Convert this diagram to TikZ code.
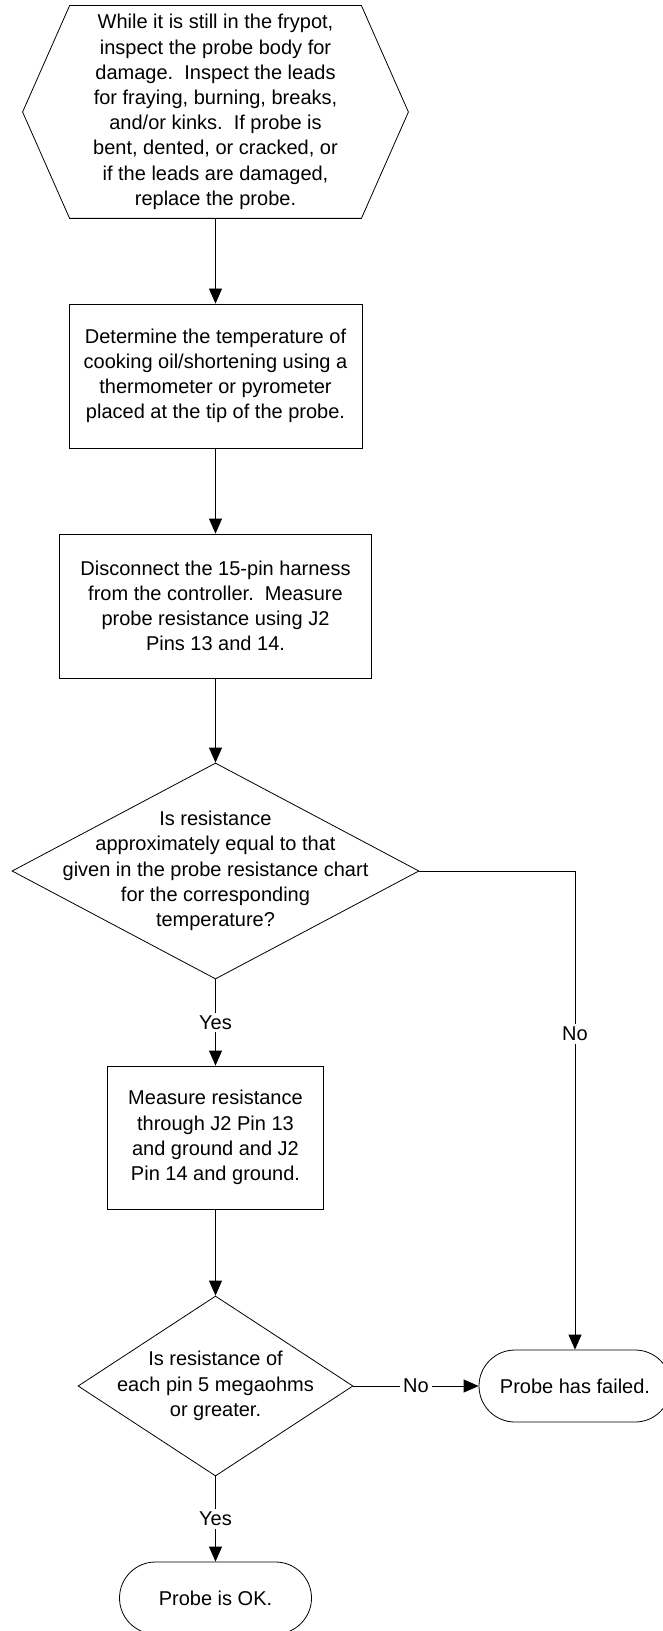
\documentclass[tikz,border=0pt]{standalone}
\usepackage{fontspec}
\setmainfont{Liberation Sans}
\usetikzlibrary{arrows.meta, shapes.geometric}

\begin{document}
\begin{tikzpicture}[x=0.5pt, y=-0.5pt,
        every node/.style={font=\fontsize{10}{12.6}\selectfont, align=center},
        process/.style={draw, rectangle, inner sep=0pt},
        decision/.style={draw, diamond, inner sep=0pt},
        terminal/.style={draw, rectangle, rounded corners=18pt, minimum width=96pt, minimum height=36pt, inner sep=0pt},
        flow/.style={-{Triangle[length=7.5pt, width=6.5pt]}},
        answer/.style={fill=white, inner sep=1.5pt}]
        \useasboundingbox (0, 0) rectangle (663, 1631);

        \node[minimum width=192.5pt, minimum height=106pt, inner sep=0pt] (inspect) at (215.5, 112)
            {While it is still in the frypot,\\inspect the probe body for\\damage.\ \ Inspect the leads\\for fraying, burning, breaks,\\and/or kinks.\ \ If probe is\\bent, dented, or cracked, or\\if the leads are damaged,\\replace the probe.};
        \draw ([xshift=23.5pt]inspect.north west) -- ([xshift=-23.5pt]inspect.north east) -- (inspect.east)
            -- ([xshift=-23.5pt]inspect.south east) -- ([xshift=23.5pt]inspect.south west) -- (inspect.west) -- cycle;

        \node[process, minimum width=146.5pt, minimum height=72pt] (temp) at (215.5, 376)
            {Determine the temperature of\\cooking oil/shortening using a\\thermometer or pyrometer\\placed at the tip of the probe.};
        \node[process, minimum width=156pt, minimum height=72pt] (harness) at (215.5, 606)
            {Disconnect the 15-pin harness\\from the controller.\ \ Measure\\probe resistance using J2\\Pins 13 and 14.};
        \node[decision, minimum width=203.5pt, minimum height=108pt,
            label={center:{Is resistance\\approximately equal to that\\given in the probe resistance chart\\for the corresponding\\temperature?}}] (chart) at (215.5, 871) {};
        \node[process, minimum width=108pt, minimum height=71.5pt] (ground) at (215.5, 1137.5)
            {Measure resistance\\through J2 Pin 13\\and ground and J2\\Pin 14 and ground.};
        \node[decision, minimum width=137.5pt, minimum height=90pt,
            label={center:{Is resistance of\\each pin 5 megaohms\\or greater.}}] (megohm) at (215.5, 1386) {};
        \node[terminal] (failed) at (575, 1386) {Probe has failed.};
        \node[terminal] (ok) at (215.5, 1598) {Probe is OK.};

        \draw[flow] (inspect.south) -- (temp);
        \draw[flow] (temp) -- (harness);
        \draw[flow] (harness) -- (chart);
        \draw[flow] (chart) -- node[answer] {Yes} (ground);
        \draw[flow] (chart.east) -| node[answer, pos=0.67] {No} (failed);
        \draw[flow] (ground) -- (megohm);
        \draw[flow] (megohm) -- node[answer] {No} (failed);
        \draw[flow] (megohm) -- node[answer] {Yes} (ok);
    \end{tikzpicture}
\end{document}
